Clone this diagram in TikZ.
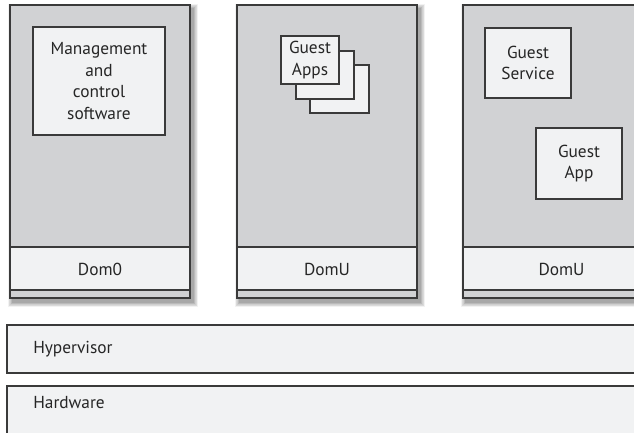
\documentclass[tikz,border=0pt]{standalone}
\usepackage{fontspec}
\setmainfont{PT Sans}
\definecolor{domgray}{RGB}{209,210,212}
\definecolor{paper}{RGB}{241,242,243}
\definecolor{edge}{RGB}{58,58,58}
\tikzset{
  frame/.style={draw=edge, line width=1.1pt},
  thin frame/.style={draw=edge, line width=0.9pt},
  label text/.style={font=\fontsize{13}{16.2}\selectfont, text=black!85, align=center, inner sep=0pt},
}
% soft drop shadow below and right of a rectangle given by two corners
\newcommand{\softshadow}[4]{%
  \foreach \k in {1,...,8}{%
    \fill[black, opacity=0.05]
      ({#1+3-0.6*\k},{#2+4-0.6*\k}) rectangle ({#3+3+0.6*\k},{#4+4+0.6*\k});
  }%
}
% one domain: grey body, light name band, thin grey strip at the bottom
\newcommand{\domain}[4]{%
  \fill[domgray] (#1,5) rectangle (#2,298);
  \fill[paper] (#1,247) rectangle (#2,290);
  \draw[frame] (#1,5) rectangle (#2,298);
  \draw[frame] (#1,247) -- (#2,247);
  \draw[frame] (#1,290) -- (#2,290);
  \node[label text] (#3) at ({(#1+#2)/2},269) {#4};
}
\begin{document}
\begin{tikzpicture}[x=0.75pt, y=-0.75pt]
  \useasboundingbox (0,0) rectangle (634,432);
  \clip (0,0) rectangle (634,432);

  % shadows of the three domains
  \softshadow{10}{5}{190}{298}
  \softshadow{237}{5}{417}{298}
  \softshadow{463}{5}{660}{298}

  % domains
  \domain{10}{190}{dom0}{Dom0}
  \domain{237}{417}{domu1}{DomU}
  \domain{463}{660}{domu2}{DomU}

  % Dom0 contents
  \draw[thin frame, fill=paper] (33,27) rectangle (165,135);
  \node[label text] (mgmt) at (99,81) {Management\\and\\control\\software};

  % stacked guest applications
  \draw[thin frame, fill=paper] (310,65) rectangle (369,113);
  \draw[thin frame, fill=paper] (296,51) rectangle (354,99);
  \draw[thin frame, fill=paper] (281,36) rectangle (339,84);
  \node[label text] (apps) at (310,60) {Guest\\Apps};

  % second DomU contents
  \draw[thin frame, fill=paper] (485,28) rectangle (571,98);
  \node[label text] (svc) at (528,63) {Guest\\Service};
  \draw[thin frame, fill=paper] (536,128) rectangle (622,199);
  \node[label text] (app) at (579,163.5) {Guest\\App};

  % layers below the domains
  \draw[frame, fill=paper] (7,325) rectangle (660,373);
  \node[label text, anchor=west] (hyp) at (33,349) {Hypervisor};
  \draw[frame, fill=paper] (7,386) rectangle (660,460);
  \node[label text, anchor=west] (hw) at (33,403) {Hardware};
\end{tikzpicture}
\end{document}
